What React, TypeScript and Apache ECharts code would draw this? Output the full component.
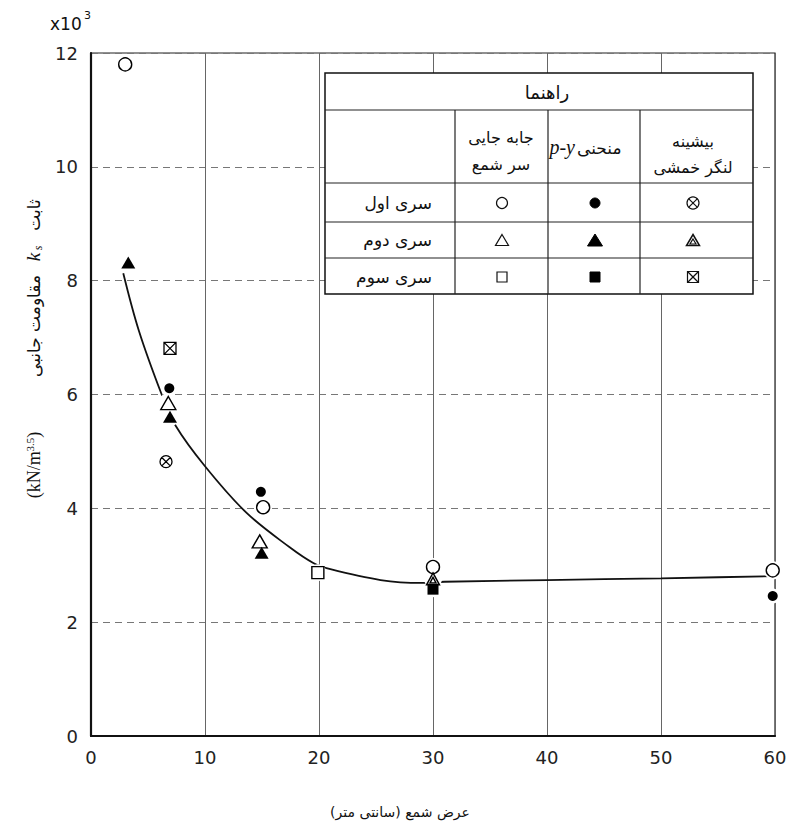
import React, { useEffect, useRef } from "react";
import * as echarts from "echarts";

const W = 799;
const H = 836;

// Axis ticks (values in units of 10^3 kN/m^3.5)
const xTickMin = 0;
const xTickMax = 60;
const xTickStep = 10;
const yTickMin = 0;
const yTickMax = 12;
const yTickStep = 2;

// Series 1 (سری اول)
const s1HeadX = [3, 15.1, 30, 59.8];
const s1HeadY = [11.8, 4.02, 2.97, 2.91];
const s1PyX = [6.87, 14.9, 59.8];
const s1PyY = [6.11, 4.29, 2.46];
const s1MomX = [6.58];
const s1MomY = [4.82];
// Series 2 (سری دوم)
const s2HeadX = [6.78, 14.8];
const s2HeadY = [5.85, 3.42];
const s2PyX = [3.27, 6.93, 14.97];
const s2PyY = [8.32, 5.61, 3.22];
const s2MomX = [30];
const s2MomY = [2.76];
// Series 3 (سری سوم)
const s3HeadX = [19.9];
const s3HeadY = [2.87];
const s3PyX = [30];
const s3PyY = [2.58];
const s3MomX = [6.93];
const s3MomY = [6.81];

// Fitted curve
const curveX = [2.83, 4.2, 6.2, 7.37, 10, 13.65, 17.4, 19.5, 21, 25.4, 29, 31, 40, 50, 60, 62.1];
const curveY = [8.13, 7.12, 6.0, 5.47, 4.74, 3.92, 3.32, 3.04, 2.93, 2.74, 2.69, 2.71, 2.74, 2.77, 2.81, 2.82];

// Legend table texts
const legendTitle = "راهنما";
const rowLabels = ["سری اول", "سری دوم", "سری سوم"];
const colHead1 = ["جابه جایی", "سر شمع"];
const colHead2Fa = "منحنی";
const colHead2En = "p-y";
const colHead3 = ["بیشینه", "لنگر خمشی"];

const xAxisTitle = "\u202Bعرض شمع (سانتی متر)\u202C";
const yTitleFa1 = "ثابت";
const yTitleFa2 = "مقاومت جانبی";

const SYM_CIRCLE_X =
  "path://M0,10A10,10,0,1,0,20,10A10,10,0,1,0,0,10Z M2.93,2.93L17.07,17.07M17.07,2.93L2.93,17.07";
const SYM_TRI_INNER = "path://M10,0L20,18L0,18Z M10,6.5L14.6,15L5.4,15Z";
const SYM_SQ_X = "path://M0,0L20,0L20,20L0,20Z M0,0L20,20M20,0L0,20";

const FA_FONT = "DejaVu Sans";
const NUM_FONT = "DejaVu Sans";
const SERIF = "Liberation Serif";

function pts(xs: number[], ys: number[]) {
  return xs.map((x, i) => [x, ys[i]]);
}

type MarkerDef = {
  name: string;
  data: number[][];
  symbol: string;
  size: number | number[];
  fill: string;
  border: number;
};

const markerDefs: MarkerDef[] = [
  { name: "s1Head", data: pts(s1HeadX, s1HeadY), symbol: "circle", size: 13, fill: "#fff", border: 1.4 },
  { name: "s1Py", data: pts(s1PyX, s1PyY), symbol: "circle", size: 10, fill: "#000", border: 0 },
  { name: "s1Mom", data: pts(s1MomX, s1MomY), symbol: SYM_CIRCLE_X, size: 12, fill: "#fff", border: 1.3 },
  { name: "s2Head", data: pts(s2HeadX, s2HeadY), symbol: "triangle", size: [15, 13], fill: "#fff", border: 1.4 },
  { name: "s2Py", data: pts(s2PyX, s2PyY), symbol: "triangle", size: [14, 12], fill: "#000", border: 0 },
  { name: "s2Mom", data: pts(s2MomX, s2MomY), symbol: SYM_TRI_INNER, size: [13, 12], fill: "#fff", border: 1.4 },
  { name: "s3Head", data: pts(s3HeadX, s3HeadY), symbol: "rect", size: 12, fill: "#fff", border: 1.4 },
  { name: "s3Py", data: pts(s3PyX, s3PyY), symbol: "rect", size: 11, fill: "#000", border: 0 },
  { name: "s3Mom", data: pts(s3MomX, s3MomY), symbol: SYM_SQ_X, size: 12, fill: "#fff", border: 1.3 },
];

function buildLegendTable(): any[] {
  const L = 325, R = 753, T = 73, B = 294;
  const hLines = [110, 183, 222, 258];
  const vLines = [455, 548, 640];
  const colX = [502, 595, 693];
  const rowY = [203, 240, 277];
  const els: any[] = [];
  els.push({ type: "rect", shape: { x: L, y: T, width: R - L, height: B - T }, style: { fill: "#fff", stroke: "#111", lineWidth: 1.5 } });
  hLines.forEach((y) =>
    els.push({ type: "line", shape: { x1: L, y1: y, x2: R, y2: y }, style: { stroke: "#222", lineWidth: 1.2 } })
  );
  vLines.forEach((x) =>
    els.push({ type: "line", shape: { x1: x, y1: hLines[0], x2: x, y2: B }, style: { stroke: "#222", lineWidth: 1.2 } })
  );
  const txt = (text: string, x: number, y: number, size: number, align = "center", font = FA_FONT, fontStyle = "normal") => ({
    type: "text",
    x,
    y,
    style: { text, fill: "#111", font: `${fontStyle} ${size}px "${font}"`, align, verticalAlign: "middle" },
  });
  els.push(txt(legendTitle, 547, 92, 18));
  els.push(txt(colHead1[0], 501, 137, 16));
  els.push(txt(colHead1[1], 501, 164, 16));
  els.push(txt(colHead2Fa, 577, 148, 17, "left"));
  els.push(txt(colHead2En, 575, 147, 20, "right", SERIF, "italic"));
  els.push(txt(colHead3[0], 693, 141, 16));
  els.push(txt(colHead3[1], 693, 167, 16));
  rowLabels.forEach((t, i) => els.push(txt(t, 432, rowY[i], 17, "right")));

  const blk = { fill: "#000", stroke: "#000", lineWidth: 1 };
  const opn = { fill: "#fff", stroke: "#111", lineWidth: 1.2 };
  const tri = (cx: number, cy: number, w: number, h: number) => [
    [cx, cy - h / 2],
    [cx + w / 2, cy + h / 2],
    [cx - w / 2, cy + h / 2],
  ];
  // column 1: head displacement
  els.push({ type: "circle", shape: { cx: colX[0], cy: rowY[0], r: 5.5 }, style: opn });
  els.push({ type: "polygon", shape: { points: tri(colX[0], rowY[1], 13, 11) }, style: opn });
  els.push({ type: "rect", shape: { x: colX[0] - 5, y: rowY[2] - 5, width: 10, height: 10 }, style: opn });
  // column 2: p-y curve
  els.push({ type: "circle", shape: { cx: colX[1], cy: rowY[0], r: 5 }, style: blk });
  els.push({ type: "polygon", shape: { points: tri(colX[1], rowY[1], 15, 12) }, style: blk });
  els.push({ type: "rect", shape: { x: colX[1] - 5, y: rowY[2] - 5, width: 10, height: 10 }, style: blk });
  // column 3: max bending moment
  const cx3 = colX[2];
  els.push({ type: "circle", shape: { cx: cx3, cy: rowY[0], r: 6 }, style: opn });
  const d = 4.2;
  els.push({ type: "line", shape: { x1: cx3 - d, y1: rowY[0] - d, x2: cx3 + d, y2: rowY[0] + d }, style: opn });
  els.push({ type: "line", shape: { x1: cx3 + d, y1: rowY[0] - d, x2: cx3 - d, y2: rowY[0] + d }, style: opn });
  els.push({ type: "polygon", shape: { points: tri(cx3, rowY[1], 13, 11) }, style: { ...opn, lineWidth: 1.5 } });
  els.push({ type: "polygon", shape: { points: tri(cx3, rowY[1] + 1.5, 6, 5) }, style: { ...opn, lineWidth: 1.2 } });
  els.push({ type: "rect", shape: { x: cx3 - 5.5, y: rowY[2] - 5.5, width: 11, height: 11 }, style: opn });
  els.push({ type: "line", shape: { x1: cx3 - 5.5, y1: rowY[2] - 5.5, x2: cx3 + 5.5, y2: rowY[2] + 5.5 }, style: opn });
  els.push({ type: "line", shape: { x1: cx3 + 5.5, y1: rowY[2] - 5.5, x2: cx3 - 5.5, y2: rowY[2] + 5.5 }, style: opn });
  return els.map((e) => ({ ...e, z: 100 }));
}

function buildOption(): any {
  const series: any[] = [];
  series.push({
    type: "line",
    name: "curve",
    data: pts(curveX, curveY),
    smooth: 0.35,
    showSymbol: false,
    clip: false,
    silent: true,
    lineStyle: { color: "#111", width: 1.8 },
    z: 2,
  });
  markerDefs.forEach((m) => {
    const sz = Array.isArray(m.size) ? m.size : [m.size, m.size];
    series.push({
      type: "scatter",
      name: m.name + "-halo",
      data: m.data,
      symbol: "circle",
      symbolSize: Math.max(sz[0], sz[1]) + 5,
      itemStyle: { color: "#fff", opacity: 1 },
      silent: true,
      z: 3,
    });
  });
  markerDefs.forEach((m) => {
    series.push({
      type: "scatter",
      name: m.name,
      data: m.data,
      symbol: m.symbol,
      symbolSize: m.size,
      itemStyle: { color: m.fill, borderColor: "#000", borderWidth: m.border, opacity: 1 },
      z: 4,
    });
  });

  const graphic: any[] = [
    { type: "text", x: 50, y: 24, style: { text: "x10", font: `17px "${NUM_FONT}"`, fill: "#111", align: "left", verticalAlign: "middle" } },
    { type: "text", x: 84, y: 15, style: { text: "3", font: `11px "${NUM_FONT}"`, fill: "#111", align: "left", verticalAlign: "middle" } },
    {
      type: "text",
      x: 34,
      y: 465,
      rotation: Math.PI / 2,
      style: {
        text: "{a|(kN/m}{b|3.5}{a|)}",
        align: "center",
        verticalAlign: "middle",
        rich: {
          a: { fontFamily: SERIF, fontSize: 18, fill: "#111", lineHeight: 20 },
          b: { fontFamily: SERIF, fontSize: 11, fill: "#111", lineHeight: 20, verticalAlign: "top" },
        },
      },
    },
    { type: "text", x: 34, y: 326, rotation: Math.PI / 2, style: { text: yTitleFa2, font: `17px "${FA_FONT}"`, fill: "#111", align: "center", verticalAlign: "middle" } },
    { type: "text", x: 33, y: 257, rotation: Math.PI / 2, style: { text: "k", font: `italic 19px "${SERIF}"`, fill: "#111", align: "center", verticalAlign: "middle" } },
    { type: "text", x: 38, y: 248, rotation: Math.PI / 2, style: { text: "s", font: `italic 12px "${SERIF}"`, fill: "#111", align: "center", verticalAlign: "middle" } },
    { type: "text", x: 34, y: 215, rotation: Math.PI / 2, style: { text: yTitleFa1, font: `17px "${FA_FONT}"`, fill: "#111", align: "center", verticalAlign: "middle" } },
    { type: "text", x: 400, y: 812, style: { text: xAxisTitle, font: `14px "${FA_FONT}"`, fill: "#111", align: "center", verticalAlign: "middle" } },
    ...buildLegendTable(),
  ];

  return {
    animation: false,
    backgroundColor: "#fff",
    textStyle: { fontFamily: NUM_FONT },
    grid: { left: 91, right: 24, top: 53, bottom: 100, show: true, borderColor: "#222", borderWidth: 1.2, backgroundColor: "transparent" },
    xAxis: {
      type: "value",
      min: xTickMin,
      max: xTickMax,
      interval: xTickStep,
      axisLine: { show: true, onZero: false, lineStyle: { color: "#111", width: 2.2 } },
      axisTick: { show: false },
      axisLabel: { fontSize: 18, color: "#222", margin: 12, fontFamily: NUM_FONT },
      splitLine: { show: true, lineStyle: { color: "#666", width: 1, type: "solid" } },
    },
    yAxis: {
      type: "value",
      min: yTickMin,
      max: yTickMax,
      interval: yTickStep,
      axisLine: { show: true, onZero: false, lineStyle: { color: "#111", width: 2.2 } },
      axisTick: { show: false },
      axisLabel: { fontSize: 18, color: "#222", margin: 13, fontFamily: NUM_FONT },
      splitLine: { show: true, lineStyle: { color: "#777", width: 1, type: [7, 5] } },
    },
    series,
    graphic,
  };
}

export default function App() {
  const ref = useRef<HTMLDivElement>(null);
  useEffect(() => {
    if (!ref.current) return;
    const chart = echarts.init(ref.current, undefined, { renderer: "svg" });
    chart.setOption(buildOption());
    return () => chart.dispose();
  }, []);
  return <div ref={ref} style={{ position: "absolute", left: 0, top: 0, width: W, height: H, background: "#fff" }} />;
}
